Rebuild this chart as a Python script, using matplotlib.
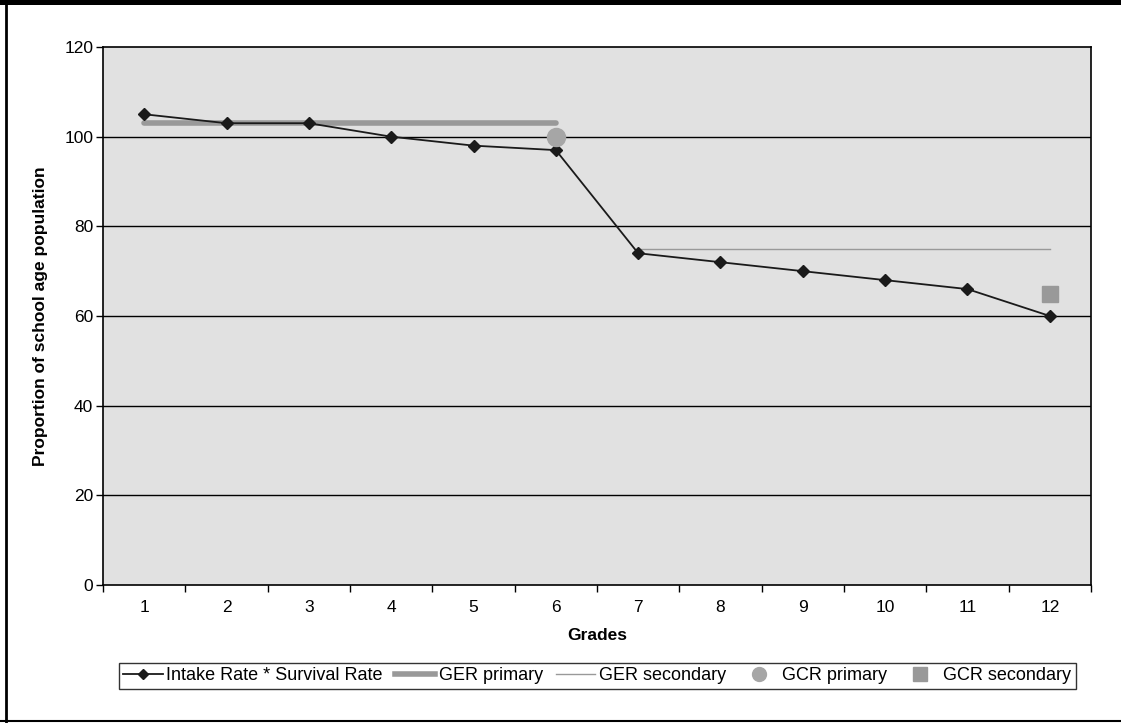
import matplotlib
matplotlib.use('Agg')
import matplotlib.pyplot as plt
from matplotlib.lines import Line2D
from matplotlib.patches import Rectangle
import numpy as np

plt.rcParams['font.family'] = ['Liberation Sans', 'DejaVu Sans']

grades = ['1', '2', '3', '4', '5', '6', '7', '8', '9', '10', '11', '12']
intake_survival = [105, 103, 103, 100, 98, 97, 74, 72, 70, 68, 66, 60]
ger_primary = [103, 103, 103, 103, 103, 103]
ger_secondary = [75, 75, 75, 75, 75, 75]
gcr_primary = 100
gcr_secondary = 65
y_ticks = [0, 20, 40, 60, 80, 100, 120]

x = np.arange(len(grades))

fig = plt.figure(figsize=(11.21, 7.23), dpi=100)
ax = fig.add_axes([103 / 1121, 1 - 585 / 723, 988 / 1121, 538 / 723])
ax.set_facecolor('#e1e1e1')

# horizontal grid
for v in y_ticks[1:-1]:
    ax.axhline(v, color='black', lw=1.0, zorder=1)

ax.plot(x[:6], ger_primary, color='#999999', lw=4, solid_capstyle='round', zorder=2)
ax.plot(x[6:], ger_secondary, color='#999999', lw=1, zorder=2)
ax.plot(x, intake_survival, color='#1a1a1a', lw=1.3, marker='D', ms=6, zorder=3)
ax.plot(x[5], gcr_primary, 'o', color='#a6a6a6', ms=13, zorder=4)
ax.plot(x[11], gcr_secondary, 's', color='#999999', ms=12, zorder=4)

ax.set_xlim(-0.5, 11.5)
ax.set_ylim(0, 120)
ax.set_yticks(y_ticks)
ax.tick_params(axis='y', labelsize=12.5, length=5, width=1, direction='out', pad=2)
ax.set_xticks(x)
ax.set_xticklabels(grades)
ax.set_xticks(np.arange(-0.5, 12, 1), minor=True)
ax.tick_params(axis='x', which='major', length=0, labelsize=12.5, pad=11)
ax.tick_params(axis='x', which='minor', length=5, width=1, direction='out')
for s in ax.spines.values():
    s.set_linewidth(1.2)
    s.set_color('black')

ax.set_xlabel('Grades', fontsize=12.5, fontweight='bold', labelpad=9)
ax.set_ylabel('Proportion of school age population', fontsize=12.5, fontweight='bold', labelpad=12)

handles = [
    Line2D([], [], color='#1a1a1a', lw=1.3, marker='D', ms=5),
    Line2D([], [], color='#999999', lw=4),
    Line2D([], [], color='#999999', lw=1),
    Line2D([], [], ls='', marker='o', color='#a6a6a6', ms=10),
    Line2D([], [], ls='', marker='s', color='#999999', ms=10),
]
labels = ['Intake Rate * Survival Rate', 'GER primary', 'GER secondary', 'GCR primary', 'GCR secondary']
leg = fig.legend(handles, labels, loc='center', bbox_to_anchor=(597 / 1121, 1 - 676 / 723),
                 ncol=5, fontsize=13, frameon=True, fancybox=False, edgecolor='black',
                 handlelength=2.2, handletextpad=0.2, columnspacing=0.7, borderpad=0.25)
leg.get_frame().set_linewidth(1.0)

# outer frame
fig.add_artist(Rectangle((0, 1 - 5 / 723), 1, 5 / 723, transform=fig.transFigure,
                         facecolor='black', edgecolor='none'))
fig.add_artist(Line2D([6 / 1121, 6 / 1121], [0, 1], transform=fig.transFigure, color='black', lw=2))
fig.add_artist(Line2D([0, 1], [2.5 / 723, 2.5 / 723], transform=fig.transFigure, color='black', lw=1.5))

fig.savefig('out.png', dpi=100)
